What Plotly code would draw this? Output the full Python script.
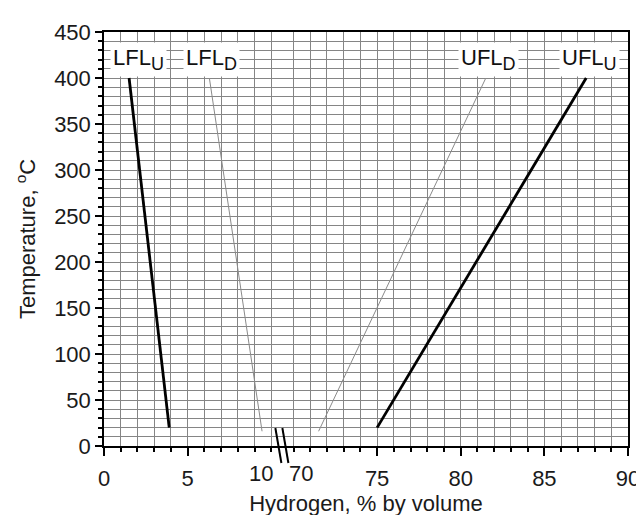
import plotly.graph_objects as go

# ---- data ----
lfl_up_h2 = [3.9, 1.5]
lfl_up_temp = [20, 400]
lfl_down_h2 = [9.45, 6.3]
lfl_down_temp = [16, 400]
ufl_down_h2 = [71.5, 81.5]
ufl_down_temp = [16, 400]
ufl_up_h2 = [75.0, 87.5]
ufl_up_temp = [20, 400]

series_names = ["LFL", "LFL", "UFL", "UFL"]
series_subs = ["U", "D", "D", "U"]

x_tick_values = [0, 5, 10, 70, 75, 80, 85, 90]
x_minor_values = list(range(0, 11)) + list(range(70, 91))
y_tick_values = list(range(0, 451, 50))

# broken x axis: 0..10 | 70..90
LOW_END = 10
HIGH_START = 70
HIGH_END = 90
GAP = 1.33


def to_axis(v):
    return v if v <= LOW_END else v - HIGH_START + LOW_END + GAP


X_MAX = to_axis(HIGH_END)
FONT = "Arial, Liberation Sans, sans-serif"
GRID = "#858585"
TXT = "#1a1a1a"

fig = go.Figure()

styles = [("black", 2.8), ("#8a8a8a", 1.0), ("#8a8a8a", 1.0), ("black", 2.8)]
series = [(lfl_up_h2, lfl_up_temp), (lfl_down_h2, lfl_down_temp),
          (ufl_down_h2, ufl_down_temp), (ufl_up_h2, ufl_up_temp)]
label_shift = [9, 2, 3, 3]

for (xs, ys), (col, w), nm, sb, sh in zip(series, styles, series_names, series_subs, label_shift):
    fig.add_trace(go.Scatter(x=[to_axis(v) for v in xs], y=ys, mode="lines",
                             line=dict(color=col, width=w), showlegend=False,
                             hoverinfo="skip"))
    fig.add_annotation(x=to_axis(xs[-1]), y=ys[-1], xref="x", yref="y",
                       text=f"{nm}<sub><span style='font-size:18px'>{sb}</span></sub>",
                       showarrow=False, yanchor="bottom",
                       xshift=sh, yshift=1, bgcolor="white", borderpad=2,
                       font=dict(family=FONT, size=22, color="#111"))

# tick labels next to the axis break are nudged apart (drawn as text)
break_labels = {10: -10, 70: 7}
x_tick_text = ["" if v in break_labels else str(v) for v in x_tick_values]
for v, dx in break_labels.items():
    fig.add_annotation(x=to_axis(v), y=0, xref="x", yref="paper", text=str(v),
                       showarrow=False, yanchor="top", xshift=dx, yshift=-13,
                       font=dict(family=FONT, size=22, color=TXT))

# axis break marks
gap_center = (to_axis(LOW_END) + to_axis(HIGH_START)) / 2 / X_MAX
for dx in (-4, 3):
    fig.add_shape(type="line", xref="paper", yref="paper",
                  xsizemode="pixel", ysizemode="pixel",
                  xanchor=gap_center, yanchor=0,
                  x0=dx - 3, x1=dx + 3, y0=18, y1=-17,
                  line=dict(color="black", width=2))

fig.update_layout(
    width=644, height=515,
    margin=dict(l=96, r=14, t=17, b=69),
    paper_bgcolor="white", plot_bgcolor="white",
    font=dict(family=FONT, size=22, color=TXT),
    xaxis=dict(
        range=[0, X_MAX], tickmode="array",
        tickvals=[to_axis(v) for v in x_tick_values],
        ticktext=x_tick_text, tickangle=0, ticklabelstandoff=4,
        ticks="outside", ticklen=8, tickwidth=1.5, tickcolor="black",
        showline=True, linecolor="black", linewidth=1.5, mirror=True,
        showgrid=True, gridcolor=GRID, gridwidth=1, zeroline=False,
        minor=dict(tickmode="array", tickvals=[to_axis(v) for v in x_minor_values],
                   ticks="outside", ticklen=4, tickcolor="black",
                   showgrid=True, gridcolor=GRID, gridwidth=1),
        tickfont=dict(size=22),
        title=dict(text="Hydrogen, % by volume", font=dict(size=22), standoff=4),
    ),
    yaxis=dict(
        range=[0, 450], tickmode="array", tickvals=y_tick_values,
        ticks="outside", ticklen=7, tickwidth=1.5, tickcolor="black",
        showline=True, linecolor="black", linewidth=1.5, mirror=True,
        showgrid=True, gridcolor=GRID, gridwidth=1, zeroline=False,
        minor=dict(dtick=10, ticks="outside", ticklen=4, tickcolor="black",
                   showgrid=True, gridcolor=GRID, gridwidth=1),
        tickfont=dict(size=22),
        title=dict(text="Temperature, <sup>o</sup>C", font=dict(size=22), standoff=12),
    ),
)

fig.write_html("out.html")
